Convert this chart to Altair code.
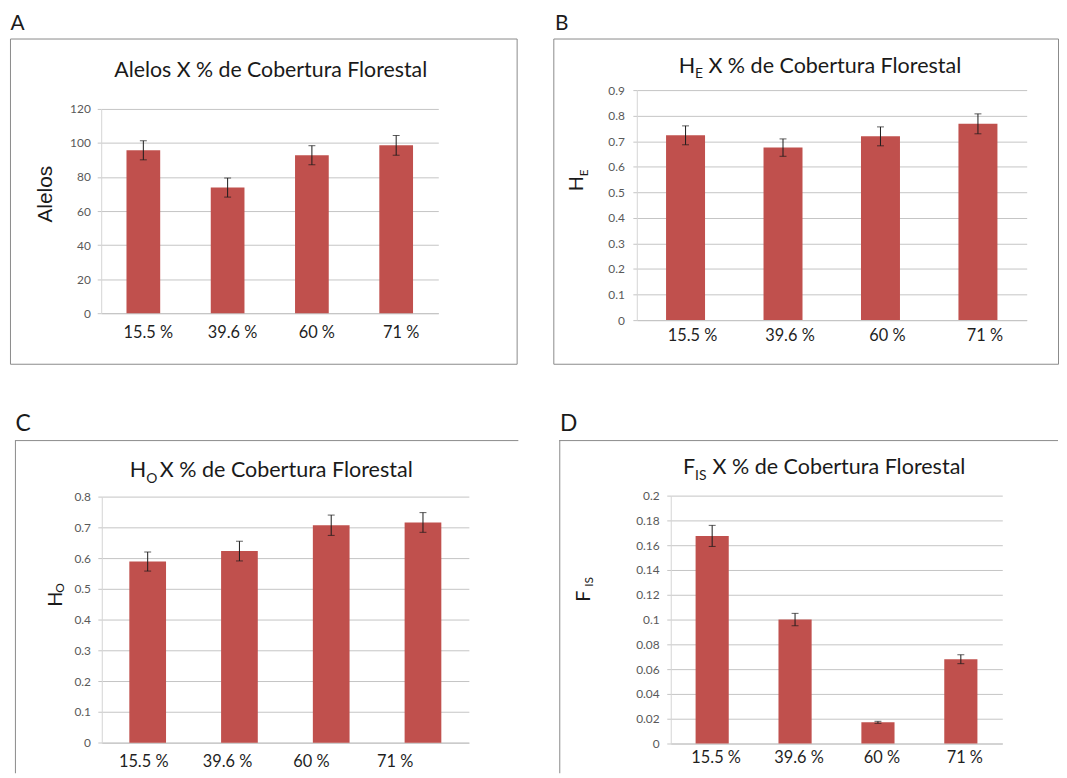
import altair as alt
import pandas as pd

# ---------------- data ----------------
CATEGORIES = ["15.5 %", "39.6 %", "60 %", "71 %"]

ALELOS = [95.7, 73.8, 92.8, 98.6]
ALELOS_ERR = [5.6, 5.6, 5.6, 5.8]

HE = [0.723, 0.675, 0.719, 0.768]
HE_ERR = [0.037, 0.034, 0.037, 0.039]

HO = [0.589, 0.623, 0.707, 0.716]
HO_ERR = [0.031, 0.032, 0.033, 0.032]

FIS = [0.1675, 0.100, 0.0171, 0.068]
FIS_ERR = [0.0085, 0.005, 0.0008, 0.0036]

TICKS_A = [0, 20, 40, 60, 80, 100, 120]
TICKS_B = [0, 0.1, 0.2, 0.3, 0.4, 0.5, 0.6, 0.7, 0.8, 0.9]
TICKS_C = [0, 0.1, 0.2, 0.3, 0.4, 0.5, 0.6, 0.7, 0.8]
TICKS_D = [0, 0.02, 0.04, 0.06, 0.08, 0.1, 0.12, 0.14, 0.16, 0.18, 0.2]

TITLE_REST = "X % de Cobertura Florestal"

# ---------------- styles ----------------
FONT = "Lato"
BAR = "#c0504d"
ERR = "#1a1a1a"
GRID = "#c4c4c4"
DOMAIN = "#d4d4d4"
FRAME = "#8a8a8a"
TXT = "#1a1a1a"
TSIZE = 21.7
SUBSIZE = 14


def txt(s, x, y, size, align="left", baseline="alphabetic", angle=0, font=FONT):
    return alt.Chart(pd.DataFrame({"t": [s]})).mark_text(
        align=align, baseline=baseline, angle=angle, font=font,
        fontSize=size, color=TXT
    ).encode(x=alt.value(x), y=alt.value(y), text="t:N")


def vrule(x, y1, y2):
    return alt.Chart(pd.DataFrame({"r": [0]})).mark_rule(
        color=FRAME, strokeWidth=1
    ).encode(x=alt.value(x), y=alt.value(y1), y2=alt.value(y2))


def hrule(y, x1, x2):
    return alt.Chart(pd.DataFrame({"r": [0]})).mark_rule(
        color=FRAME, strokeWidth=1
    ).encode(y=alt.value(y), x=alt.value(x1), x2=alt.value(x2))


def panel(vals, errs, ticks, g, extras):
    df = pd.DataFrame({
        "cat": CATEGORIES,
        "val": vals,
        "lo": [v - e for v, e in zip(vals, errs)],
        "hi": [v + e for v, e in zip(vals, errs)],
    })
    xs = alt.Scale(domain=CATEGORIES, range=g["xr"], paddingInner=0.6, paddingOuter=0.3)
    ys = alt.Scale(domain=[ticks[0], ticks[-1]], range=g["yr"], nice=False)
    xaxis = alt.Axis(
        title=None, orient="bottom", offset=g["xoff"], ticks=False, grid=False,
        domainColor=GRID, labelFont=FONT, labelFontSize=16.5, labelColor="#1f1f1f",
        labelPadding=g["xpad"], labelOffset=g["loff"], labelAngle=0,
    )
    yaxis = alt.Axis(
        title=None, orient="left", offset=g["yoff"], values=ticks, format="~r",
        tickSize=4, tickColor=GRID, domainColor=DOMAIN, grid=True, gridColor=GRID,
        labelFont=FONT, labelFontSize=12, labelColor="#595959", labelPadding=g["ypad"],
    )
    X = alt.X("cat:N", scale=xs, axis=xaxis, sort=CATEGORIES)

    def Y(f):
        return alt.Y(f, scale=ys, axis=yaxis)

    base = alt.Chart(df)
    bars = base.mark_bar(color=BAR).encode(x=X, y=Y("val:Q"))
    stem = base.mark_rule(color=ERR, strokeWidth=1).encode(x=X, y=Y("lo:Q"), y2="hi:Q")
    cap_lo = base.mark_tick(color=ERR, size=7, thickness=1).encode(x=X, y=Y("lo:Q"))
    cap_hi = base.mark_tick(color=ERR, size=7, thickness=1).encode(x=X, y=Y("hi:Q"))
    layers = [bars, stem, cap_lo, cap_hi] + extras
    return alt.layer(*layers).properties(
        width=g["w"], height=g["h"], view=g["view"]
    )


boxed = alt.ViewBackground(stroke=FRAME, strokeWidth=1)
open_view = alt.ViewBackground(strokeOpacity=0)

# Panel A
gA = dict(w=511, h=328, xr=[92, 432], yr=[277, 71], yoff=-92, xoff=-51,
          ypad=7, xpad=11.5, loff=5, view=boxed)
A = panel(ALELOS, ALELOS_ERR, TICKS_A, gA, [
    txt("A", 0.5, -26, 21, baseline="top"),
    txt("Alelos " + TITLE_REST, 263, 39.3, 21.5, align="center"),
    txt("Alelos", 36.5, 157, 21, align="center", baseline="middle", angle=270,
        font="Liberation Sans"),
])

# Panel B
gB = dict(w=509, h=328, xr=[84.2, 477.4], yr=[284, 52], yoff=-84.2, xoff=-44,
          ypad=8.5, xpad=8, loff=7, view=boxed)
B = panel(HE, HE_ERR, TICKS_B, gB, [
    txt("B", 1.8, -26, 21, baseline="top"),
    txt("H", 143, 34.5, TSIZE, align="right"),
    txt("E", 143, 39.5, SUBSIZE),
    txt(TITLE_REST, 156.4, 34.5, TSIZE),
    txt("H", 30.4, 154, 20, angle=270),
    txt("E", 35.4, 139, 12, angle=270),
])

# Panel C
gC = dict(w=513, h=336, xr=[92.6, 462.8], yr=[305.3, 57], yoff=-92.6, xoff=-30.7,
          ypad=7.4, xpad=10.8, loff=alt.expr("-4 - 24 * datum.index"), view=open_view)
C = panel(HO, HO_ERR, TICKS_C, gC, [
    vrule(5.5, 0, 336),
    hrule(0.5, 5.5, 512.7),
    txt("C", 5.5, -27.5, 23, baseline="top"),
    txt("H", 137.4, 37, TSIZE, align="right"),
    txt("O", 137.4, 43, SUBSIZE),
    txt(TITLE_REST, 151.1, 37, TSIZE),
    txt("H", 52.3, 168, 20, angle=270),
    txt("O", 54.7, 154, 12, angle=270),
])

# Panel D
gD = dict(w=503, h=336, xr=[112.4, 446.8], yr=[306, 56], yoff=-112.4, xoff=-30,
          ypad=7.7, xpad=6, loff=4, view=open_view)
D = panel(FIS, FIS_ERR, TICKS_D, gD, [
    vrule(0.5, 0, 336),
    hrule(0.5, 0, 503),
    txt("D", 0.8, -27.5, 23, baseline="top"),
    txt("F", 137, 34.3, TSIZE, align="right"),
    txt("IS", 137, 40.5, SUBSIZE),
    txt(TITLE_REST, 154.5, 34.3, TSIZE),
    txt("F", 31.1, 163, 20, angle=270),
    txt("IS", 34.5, 148, 12, angle=270),
])

row1 = alt.hconcat(A, B, spacing=35)
row2 = alt.hconcat(C, D, spacing=39)
chart = alt.vconcat(row1, row2, spacing=48).properties(
    padding={"left": 1, "top": 0.5, "right": 0, "bottom": 0},
    background="white",
)

chart.save("out.html", embed_options={"renderer": "svg", "actions": False})
